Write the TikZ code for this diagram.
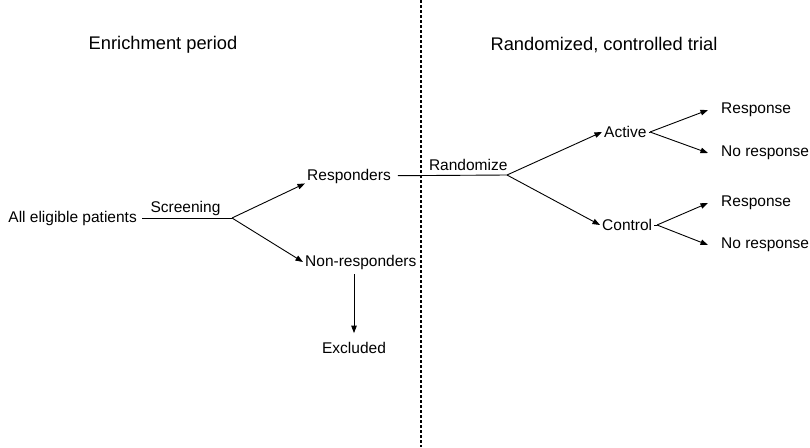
\documentclass[tikz,border=0pt]{standalone}
\usepackage{fontspec}
\setmainfont{Liberation Sans}
\usetikzlibrary{arrows.meta}

\begin{document}
\begin{tikzpicture}[x=1pt,y=-1pt,
        lbl/.style={inner sep=2pt, font=\fontsize{15.5}{18}\selectfont},
        head/.style={inner sep=0pt, font=\fontsize{18.3}{22}\selectfont},
        link/.style={line width=0.9pt},
        arr/.style={link, -{Triangle[length=7.5pt,width=5.5pt]}},
        divider/.style={line width=1.2pt, dash pattern=on 3pt off 2pt}]
        \useasboundingbox (0,0) rectangle (810,447);

        \node[head] (enrich) at (163,45) {Enrichment period};
        \node[head] (rct) at (604,45) {Randomized, controlled trial};

        \node[lbl, anchor=east] (all) at (139,218) {All eligible patients};
        \coordinate (split1) at (232,218);
        \node[lbl, anchor=west] (resp) at (305,176) {Responders};
        \node[lbl, anchor=west] (nonresp) at (303,262) {Non-responders};
        \node[lbl] (excl) at (354,348) {Excluded};

        \coordinate (split2) at (507,175);
        \node[lbl, anchor=west] (active) at (602,132) {Active};
        \node[lbl, anchor=west] (control) at (600,225) {Control};
        \coordinate (split3) at (650,132);
        \coordinate (split4) at (657,225);
        \node[lbl, anchor=west] (resp1) at (719,110) {Response};
        \node[lbl, anchor=west] (noresp1) at (719,153) {No response};
        \node[lbl, anchor=west] (resp2) at (719,203) {Response};
        \node[lbl, anchor=west] (noresp2) at (719,245) {No response};

        \coordinate (divtop) at (421,0);
        \coordinate (divbot) at (421,447);
        \draw[divider] (divtop) -- (divbot);

        \draw[link, shorten <=3pt] (all) -- node[lbl, above] (scrlbl) {Screening} (split1);
        \draw[arr] (split1) -- ([yshift=2pt]resp.south west);
        \draw[arr] (split1) -- (nonresp.west);
        \draw[arr, shorten <=3pt, shorten >=7pt] (nonresp.south -| excl) -- (excl.north);

        \draw[link, shorten <=5pt] (resp) -- node[lbl, above, pos=0.66, yshift=2pt] (randlbl) {Randomize} (split2);
        \draw[arr] (split2) -- (active.west);
        \draw[arr] (split2) -- (control.west);

        \draw[link] (active) -- (split3);
        \draw[link] (control) -- (split4);
        \draw[arr] (split3) -- ([xshift=-11pt]resp1.west);
        \draw[arr] (split3) -- ([xshift=-11pt]noresp1.west);
        \draw[arr] (split4) -- ([xshift=-11pt]resp2.west);
        \draw[arr] (split4) -- ([xshift=-11pt]noresp2.west);
    \end{tikzpicture}
\end{document}
